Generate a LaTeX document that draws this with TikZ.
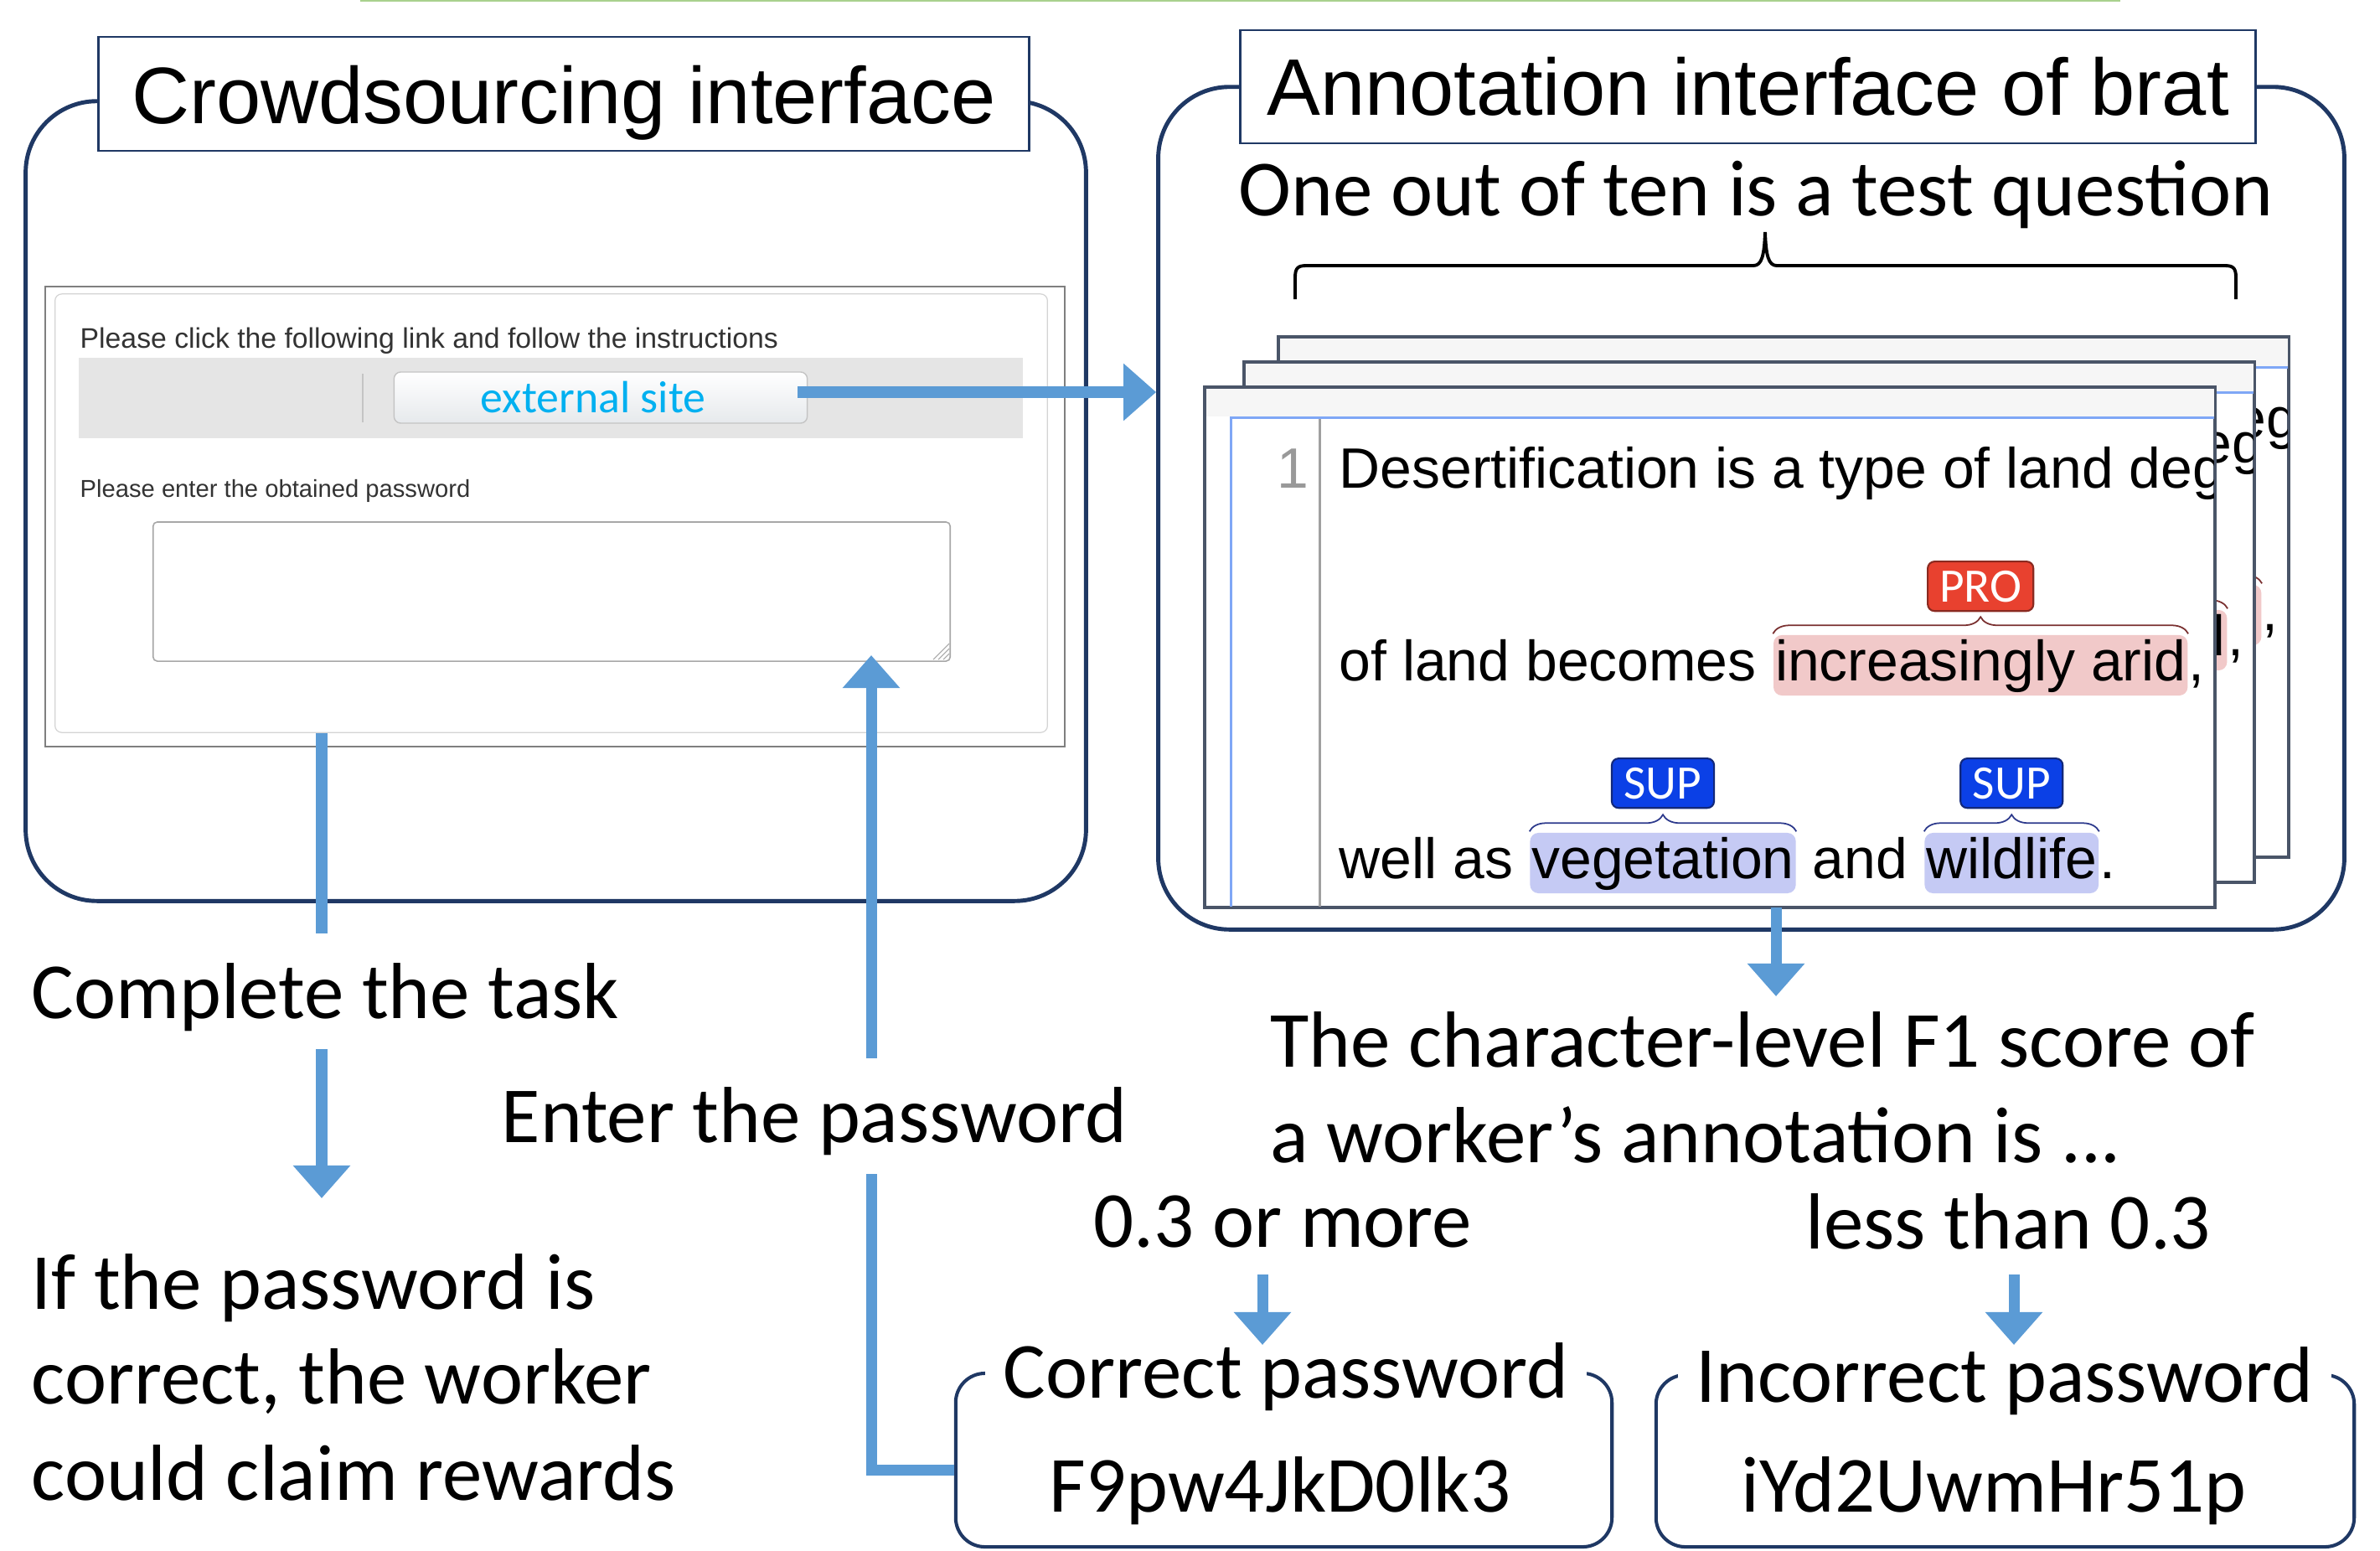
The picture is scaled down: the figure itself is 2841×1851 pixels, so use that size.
\documentclass[tikz,border=0pt]{standalone}
\usepackage{fontspec}
\setmainfont{Carlito}
\newfontfamily\arialfam{Liberation Sans}
\usetikzlibrary{arrows.meta,decorations.pathreplacing}
\definecolor{navy}{HTML}{1F3864}
\definecolor{ablue}{HTML}{5B9BD5}
\definecolor{lgreen}{HTML}{A9D18E}
\definecolor{shotgrey}{HTML}{7F7F7F}
\definecolor{shotlight}{HTML}{D4D4D4}
\definecolor{bargrey}{HTML}{E5E5E5}
\definecolor{cyanlink}{HTML}{00B0F0}
\definecolor{shottext}{HTML}{333333}
\definecolor{areagrey}{HTML}{A8A8A8}
\definecolor{btnborder}{HTML}{C4C4C4}
\definecolor{btnbottom}{HTML}{E6E9EC}
\definecolor{pageborder}{HTML}{4A5568}
\definecolor{bratblue}{HTML}{7FA7F6}
\definecolor{sepgrey}{HTML}{A0A0A0}
\definecolor{numgrey}{HTML}{999999}
\definecolor{bandgrey}{HTML}{F6F6F6}
\definecolor{propink}{HTML}{F1C9C9}
\definecolor{prored}{HTML}{E8412F}
\definecolor{prodark}{HTML}{8A2A20}
\definecolor{probrown}{HTML}{7A3030}
\definecolor{suplav}{HTML}{C5CAF4}
\definecolor{supblue}{HTML}{0B40E6}
\definecolor{supdark}{HTML}{12287A}
\definecolor{supbrace}{HTML}{2D3A8C}
\newcommand\fntbig{\fontsize{27}{32.4}\selectfont}
\newcommand\fnttitle{\arialfam\fontsize{27.2}{32}\selectfont}
\newcommand\fntbrat{\arialfam\fontsize{19.3}{23}\selectfont}
\newcommand\bratcontent{%
  \fill[bandgrey] (1440,464) rectangle (2643,497);
  \draw[bratblue, line width=0.85pt] (2643,498) -- (1469,498) -- (1469,1082);
  \draw[sepgrey, line width=0.85pt] (1575,500) -- (1575,1082);
  \node[brat, text=numgrey, anchor=base east] (num) at (1563,582) {1};
  \node[brat, anchor=base west] (la) at (1598,582) {Desertification is a type of land deg};
  \node[brat, anchor=base west] (lb) at (1598,812) {of land becomes\ \null};
  \node[brat, hl, fill=propink, anchor=base west] (inc) at (lb.base east) {increasingly arid};
  \node[brat, anchor=base west] (comma) at (inc.base east) {,};
  \draw[probrown, line width=0.5pt, decorate, decoration={brace, amplitude=2mm}] ([yshift=0.1mm]inc.north west) -- ([yshift=0.1mm]inc.north east);
  \node[lab, fill=prored, draw=prodark, minimum width=12.6mm, anchor=south] (pro) at ([yshift=2.7mm]inc.north) {PRO};
  \node[brat, anchor=base west] (lc) at (1598,1048) {well as\ \null};
  \node[brat, hl, fill=suplav, anchor=base west] (veg) at (lc.base east) {vegetation};
  \node[brat, anchor=base west] (ld) at (veg.base east) {\null\ and\ \null};
  \node[brat, hl, fill=suplav, anchor=base west] (wild) at (ld.base east) {wildlife};
  \node[brat, anchor=base west] (dot) at (wild.base east) {.};
  \draw[supbrace, line width=0.5pt, decorate, decoration={brace, amplitude=2mm}] ([yshift=0.1mm]veg.north west) -- ([yshift=0.1mm]veg.north east);
  \draw[supbrace, line width=0.5pt, decorate, decoration={brace, amplitude=2mm}] ([yshift=0.1mm]wild.north west) -- ([yshift=0.1mm]wild.north east);
  \node[lab, fill=supblue, draw=supdark, minimum width=12.2mm, anchor=south] (sup1) at ([yshift=2.8mm]veg.north) {SUP};
  \node[lab, fill=supblue, draw=supdark, minimum width=12.2mm, anchor=south] (sup2) at ([yshift=2.8mm]wild.north) {SUP};
}
\begin{document}
\begin{tikzpicture}[x=0.01cm, y=-0.01cm,
  bigbox/.style={draw=navy, line width=1.4pt, rounded corners=8.5mm, inner sep=0},
  titlebox/.style={draw=navy, line width=0.7pt, fill=white, font=\fnttitle, inner sep=0},
  txt/.style={font=\fntbig, inner sep=0, anchor=base west},
  barrow/.style={draw=ablue, line width=3.7pt, -{Triangle[length=3.9mm,width=6.6mm]}},
  bline/.style={draw=ablue, line width=3.7pt},
  pwbox/.style={draw=navy, line width=1.15pt, rounded corners=3.5mm, inner sep=0},
  pwtitle/.style={font=\fntbig, fill=white, inner xsep=2.2mm, inner ysep=0.5mm, anchor=base},
  brat/.style={font=\fntbrat, inner sep=0},
  hl/.style={inner xsep=0.2mm, inner ysep=0, text height=5.4mm, text depth=1.8mm, rounded corners=1mm},
  lab/.style={font=\fontsize{16.3}{19}\selectfont, text=white, inner sep=0, minimum height=5.9mm, rounded corners=0.8mm, line width=0.6pt},
  pagebox/.style={draw=pageborder, line width=0.7pt, fill=white, inner sep=0, minimum width=120.4mm, minimum height=61.9mm},
  shotone/.style={font=\arialfam\fontsize{9.6}{11}\selectfont, text=shottext, inner sep=0, anchor=base west},
  shottwo/.style={font=\arialfam\fontsize{8.3}{10}\selectfont, text=shottext, inner sep=0, anchor=base west}
]
\useasboundingbox (0,0) rectangle (2841,1851);
\fill[white] (0,0) rectangle (2841,1851);
\draw[lgreen, line width=0.6pt] (430,1) -- (2531,1);

% ---------- left: crowdsourcing interface ----------
\node[bigbox, minimum width=126.5mm, minimum height=95.4mm] (lbox) at (663.5,598) {};
\node[titlebox, minimum width=111mm, minimum height=13.6mm, text height=7mm, text depth=0mm] (ltitle) at (673,112) {Crowdsourcing interface};

\node[draw=shotgrey, line width=0.6pt, minimum width=121.7mm, minimum height=54.9mm, inner sep=0] (shot) at (662.5,616.5) {};
\node[draw=shotlight, line width=0.35pt, rounded corners=0.8mm, minimum width=118.4mm, minimum height=52.3mm, inner sep=0] (shotin) at (658,612.5) {};
\node[shotone] (q1) at (95,415) {Please click the following link and follow the instructions};
\node[fill=bargrey, minimum width=112.7mm, minimum height=9.6mm, inner sep=0] (bar) at (657.5,475) {};
\draw[btnborder, line width=0.4pt] (433,446) -- (433,504);
\node[draw=btnborder, line width=0.4pt, rounded corners=0.8mm, top color=white, bottom color=btnbottom, minimum width=49.3mm, minimum height=6.1mm, inner sep=0, font=\fontsize{15.3}{18}\selectfont, text=cyanlink] (btn) at (717,474.5) {\hspace*{-1.8mm}external site};
\node[shottwo] (q2) at (95,593) {Please enter the obtained password};
\node[draw=areagrey, line width=0.45pt, rounded corners=0.5mm, minimum width=95.1mm, minimum height=16.6mm, inner sep=0] (tarea) at (658.5,706) {};
\draw[areagrey, line width=0.3pt] (1114,787) -- (1133,768) (1120,787) -- (1133,774) (1126,787) -- (1133,780);

% ---------- right: brat ----------
\node[bigbox, minimum width=141.5mm, minimum height=100.5mm] (rbox) at (2090.5,606.5) {};
\node[titlebox, minimum width=121.1mm, minimum height=13.5mm, text height=6.7mm, text depth=0mm] (rtitle) at (2086.5,103.5) {Annotation interface of brat};
\node[txt] (oneout) at (1478,257) {One out of ten is a test question};
\draw[line width=1.1pt] (1546,357) -- (1546,331) .. controls (1546,319) and (1550,317) .. (1560,317) -- (2093,317) .. controls (2103,317) and (2106,305) .. (2107,277) .. controls (2108,305) and (2111,317) .. (2121,317) -- (2655,317) .. controls (2665,317) and (2669,319) .. (2669,331) -- (2669,357);

\begin{scope}[shift={(88,-60)}, name prefix=back-]
  \node[pagebox] (page) at (2041,772.5) {};
  \begin{scope}
    \clip (1439,463) rectangle (2643,1082);
    \bratcontent
  \end{scope}
  \draw[pageborder, line width=0.7pt] (page.north west) rectangle (page.south east);
\end{scope}
\begin{scope}[shift={(47,-30)}, name prefix=mid-]
  \node[pagebox] (page) at (2041,772.5) {};
  \begin{scope}
    \clip (1439,463) rectangle (2643,1082);
    \bratcontent
  \end{scope}
  \draw[pageborder, line width=0.7pt] (page.north west) rectangle (page.south east);
\end{scope}
\begin{scope}[name prefix=front-]
  \node[pagebox] (page) at (2041,772.5) {};
  \begin{scope}
    \clip (1439,463) rectangle (2643,1082);
    \bratcontent
  \end{scope}
  \draw[pageborder, line width=0.7pt] (page.north west) rectangle (page.south east);
\end{scope}

% ---------- texts ----------
\node[txt] (complete) at (37,1215) {Complete the task};
\node[txt] (ifa) at (37,1562) {If the password is};
\node[txt] (ifb) at (37,1675) {correct, the worker};
\node[txt] (ifc) at (37,1790) {could claim rewards};
\node[txt] (enter) at (598,1363) {Enter the password};
\node[txt] (fa) at (1516,1273) {The character-level F1 score of};
\node[txt] (fb) at (1516,1387) {a worker’s annotation is ...};
\node[txt] (geq) at (1305,1488) {0.3 or more};
\node[txt] (lt) at (2155,1490) {less than 0.3};

\node[pwbox, minimum width=78.3mm, minimum height=20.7mm] (cp) at (1532.5,1742.5) {};
\node[pwtitle] (cpt) at (1535,1668) {Correct password};
\node[txt, anchor=base] (cpw) at (1528,1804) {F9pw4JkD0lk3};
\node[pwbox, minimum width=83.3mm, minimum height=20.5mm] (ip) at (2393.5,1743.5) {};
\node[pwtitle] (ipt) at (2393,1673) {Incorrect password};
\node[txt, anchor=base] (ipw) at (2380,1804) {iYd2UwmHr51p};

% ---------- connectors ----------
\coordinate (v1b) at (384,1114);
\coordinate (v2a) at (384,1252);
\coordinate (v2b) at (384,1430);
\coordinate (pwtip) at (1040,782);
\coordinate (enterup) at (1040,1263);
\coordinate (enterdown) at (1040,1401);
\coordinate (f1tip) at (2120,1189);
\coordinate (a1s) at (1507,1521);
\coordinate (a1e) at (1507,1605);
\coordinate (a2s) at (2404,1521);
\coordinate (a2e) at (2404,1605);

\draw[barrow] ([xshift=-1.2mm, yshift=0.65mm]btn.east) -- ([yshift=0.65mm]btn.east -| rbox.west);
\draw[bline] (shotin.south -| v1b) -- (v1b);
\draw[barrow] (v2a) -- (v2b);
\draw[barrow] (enterup) -- (pwtip);
\draw[bline] ([yshift=-1.15mm]cp.west) -| (enterdown);
\draw[barrow] (front-page.south -| f1tip) -- (f1tip);
\draw[barrow] (a1s) -- (a1e);
\draw[barrow] (a2s) -- (a2e);
\end{tikzpicture}
\end{document}
